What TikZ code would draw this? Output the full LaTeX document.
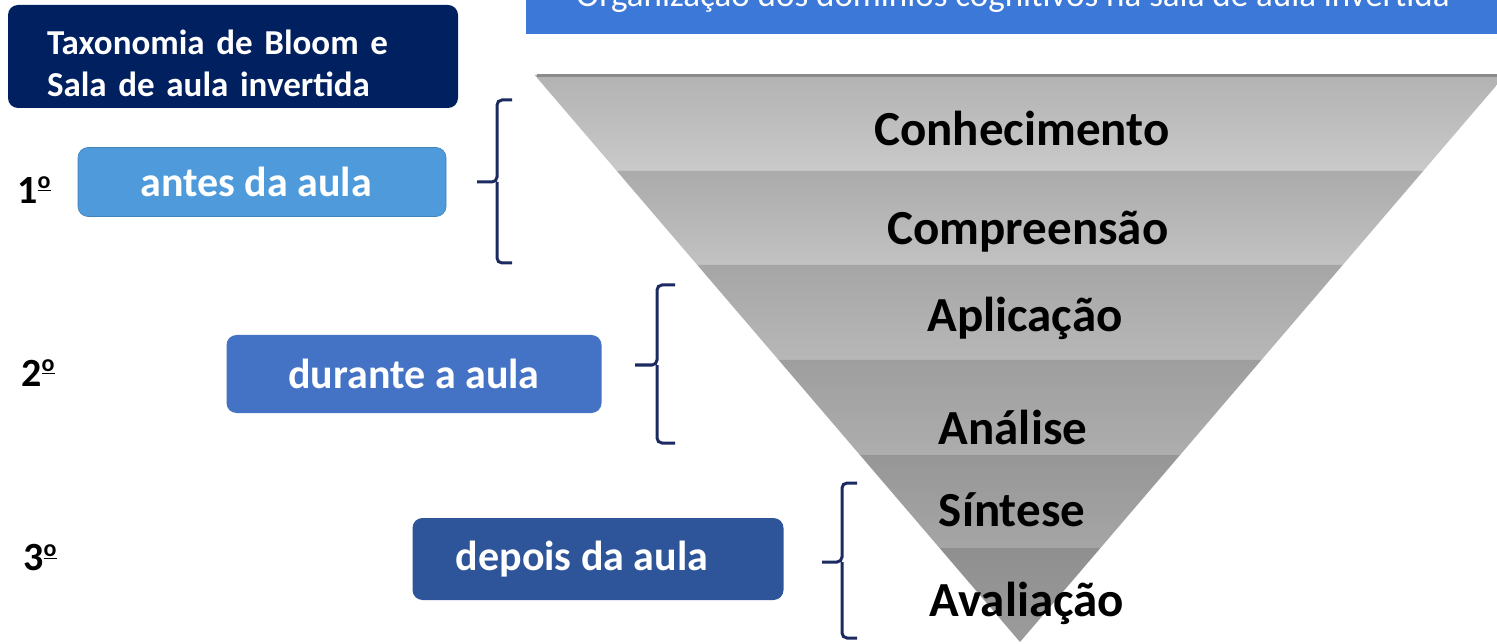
\documentclass[tikz,border=0pt]{standalone}
\usepackage{fontspec}
\setmainfont{Carlito}
\usepackage{tikz}
\usetikzlibrary{positioning}

\definecolor{navy}{HTML}{002060}
\definecolor{antes}{HTML}{4E9ADA}
\definecolor{durante}{HTML}{4472C4}
\definecolor{depois}{HTML}{2E5599}
\definecolor{banner}{HTML}{3C78D8}
\definecolor{bracecol}{HTML}{1B2A60}

% ordinal sign with the underline, as the reference prints it
\newcommand{\ordsign}{\raisebox{0.36em}{\fontsize{24}{24}\selectfont\underline{o}}}

\begin{document}
\begin{tikzpicture}[x=1pt, y=-1pt, semithick]
	\tikzstyle{phase}=[rounded corners=10pt, text=white, inner sep=0pt, font=\fontsize{42}{42}\selectfont\bfseries]
	\tikzstyle{level}=[text=black, font=\fontsize{49}{49}\selectfont\bfseries]
	\tikzstyle{order}=[text=black, font=\fontsize{40}{40}\selectfont\bfseries]
	\tikzstyle{bracket}=[draw=bracecol, line width=3pt, rounded corners=5pt]

	\useasboundingbox (0,0) rectangle (1497,644);
	\clip (0,0) rectangle (1497,644);

	% banner, cut at the top
	\fill[banner] (526,0) rectangle (1497,34);
	\node[text=white, anchor=base, font=\fontsize{35}{35}\selectfont] (banner) at (1013,7)
		{Organização dos domínios cognitivos na sala de aula invertida};

	% funnel
	\foreach \ya/\yb/\ca/\cb in {75/171/30/21, 171/265/33/24, 265/360/35/28, 360/455/38/32, 455/548/41/35, 548/642/44/39}
	{
		\pgfmathsetmacro{\xa}{0.856*(642-\ya)}
		\pgfmathsetmacro{\xb}{0.856*(642-\yb)}
		\shade[top color=black!\ca, bottom color=black!\cb]
			(1020-\xa,\ya) -- (1020+\xa,\ya) -- (1020+\xb,\yb) -- (1020-\xb,\yb) -- cycle;
	}
	\draw[black!45, line width=3pt] (537,76) -- (1505,76);

	\node[level] (conh) at (1022,128) {Conhecimento};
	\node[level] (comp) at (1028,232) {Compreensão};
	\node[level] (apli) at (1025,318) {Aplicação};
	\node[level] (anal) at (1013,427) {Análise};
	\node[level] (sint) at (1012,510) {Síntese};
	\node[level] (aval) at (1027,603) {Avaliação};

	% title and phases
	\fill[navy, rounded corners=10pt] (8,5) rectangle (458,108);
	\node[text=white, text width=372pt, align=left, inner sep=0pt,
		font=\fontsize{35}{42}\selectfont\bfseries] (title) at (233,63) {Taxonomia de Bloom e\\Sala de aula invertida};

	\node[phase, fill=antes, draw=antes!85!black, minimum width=368pt, minimum height=69pt] (before) at (262,182) {\hspace*{-6pt}antes da aula\hspace*{6pt}};
	\node[phase, fill=durante, minimum width=375pt, minimum height=78pt] (during) at (414,374) {durante a aula};
	\node[phase, fill=depois, minimum width=371pt, minimum height=82pt] (after) at (598,559) {\hspace*{-16pt}depois da aula\hspace*{16pt}};

	\node[order] (first) at (34,190) {1\ordsign};
	\node[order] (second) at (38,373) {2\ordsign};
	\node[order] (third) at (40,558) {3\ordsign};

	% brackets
	\draw[bracket] (512,100) -| (497,182) -- (477,182);
	\draw[bracket] (497,182) |- (512,263);
	\draw[bracket] (675,285) -| (657,365) -- (635,365);
	\draw[bracket] (657,365) |- (675,443);
	\draw[bracket] (857,483) -| (842,562) -- (822,562);
	\draw[bracket] (842,562) |- (857,638);
\end{tikzpicture}
\end{document}
